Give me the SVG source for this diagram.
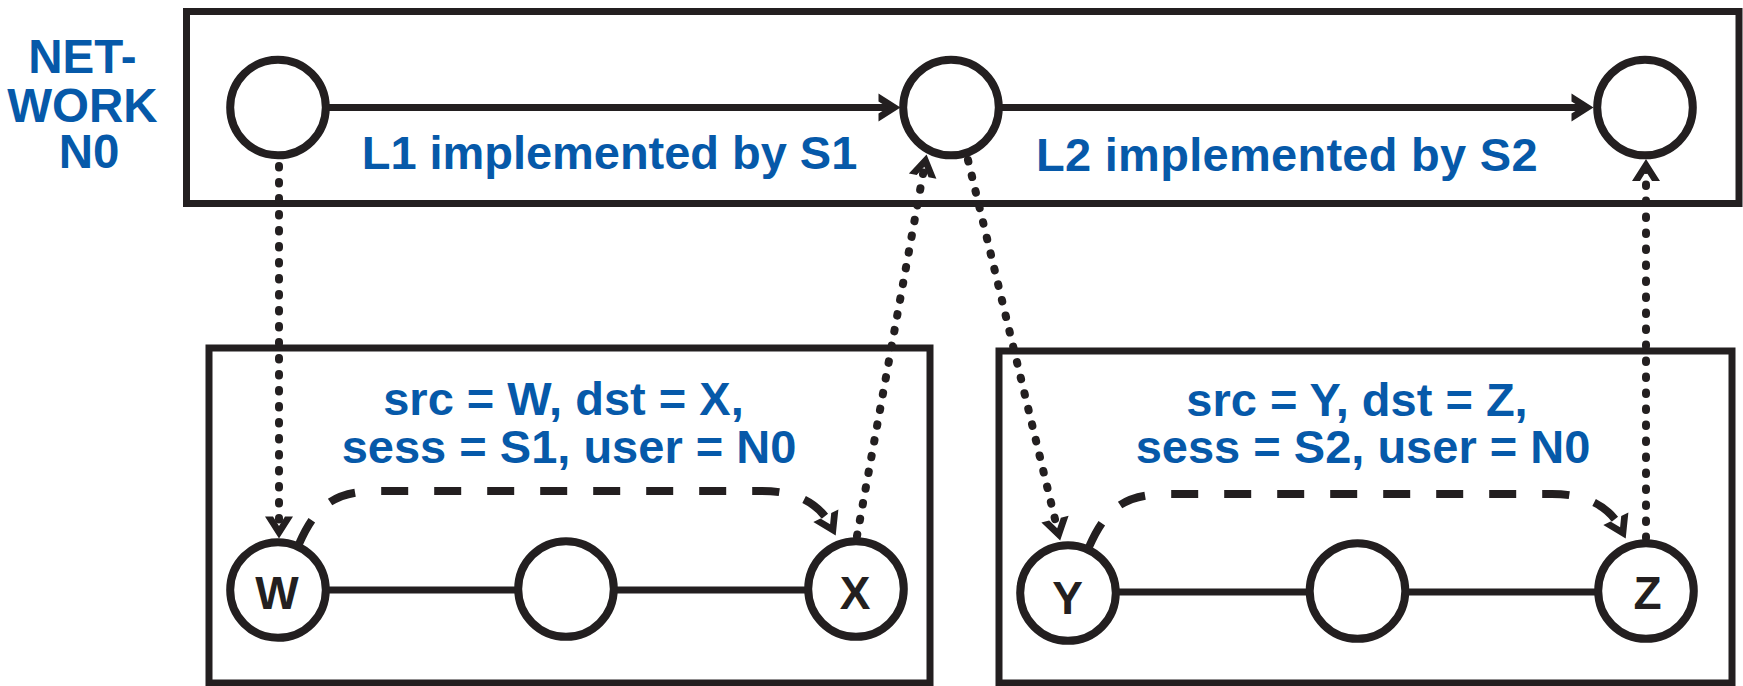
<svg xmlns="http://www.w3.org/2000/svg" width="1743" height="686" viewBox="0 0 1743 686">
  <style>
    .frame { fill: none; stroke: #231f20; stroke-width: 7; }
    .node { fill: #ffffff; stroke: #231f20; stroke-width: 8; }
    .link { fill: none; stroke: #231f20; stroke-width: 7; }
    .dot { fill: none; stroke: #231f20; stroke-width: 8; stroke-linecap: round; stroke-dasharray: 1.5 14.5; }
    .dash { fill: none; stroke: #231f20; stroke-width: 8; stroke-dasharray: 27 26; }
    .lbl { font-family: "Liberation Sans", Arial, Helvetica, sans-serif; font-weight: bold; fill: #0659a9; }
    .nl { font-family: "Liberation Sans", Arial, Helvetica, sans-serif; font-weight: bold; fill: #231f20; font-size: 46px; text-anchor: middle; }
  </style>
  <defs>
    <!-- barbed chevron head; the line stops 10px short of the tip -->
    <marker id="chev" viewBox="-13 -16 26 32" markerWidth="26" markerHeight="32" refX="0" refY="0" orient="auto" markerUnits="userSpaceOnUse">
      <path d="M10.5,0 L-11.5,-14 L-11.5,-6 L-2,0 L-11.5,6 L-11.5,14 Z" fill="#231f20"/>
    </marker>
  </defs>

  <rect width="1743" height="686" fill="#ffffff"/>

  <!-- network N0 -->
  <g id="network-n0">
    <rect class="frame" x="186.5" y="11.5" width="1552.5" height="192"/>
    <text class="lbl" font-size="47.5" text-anchor="middle">
      <tspan x="89" y="73">NET-</tspan>
      <tspan x="89" y="121.5">WORK</tspan>
      <tspan x="89" y="168">N0</tspan>
    </text>
    <text class="lbl" font-size="47" x="361.7" y="169" textLength="495.6">L1 implemented by S1</text>
    <text class="lbl" font-size="47" x="1036" y="170.5" textLength="501.6">L2 implemented by S2</text>
  </g>

  <!-- session S1 -->
  <g id="session-s1">
    <rect class="frame" x="209" y="348" width="721" height="335"/>
    <text class="lbl" font-size="47" text-anchor="middle">
      <tspan x="570" y="415">src = W, dst = X,</tspan>
      <tspan x="569" y="463.3">sess = S1, user = N0</tspan>
    </text>
  </g>

  <!-- session S2 -->
  <g id="session-s2">
    <rect class="frame" x="999" y="351" width="733" height="332"/>
    <text class="lbl" font-size="47" text-anchor="middle">
      <tspan x="1363.5" y="416">src = Y, dst = Z,</tspan>
      <tspan x="1363" y="463.3">sess = S2, user = N0</tspan>
    </text>
  </g>

  <g id="connectors">
    <!-- network links -->
    <path class="link" d="M326,107.5 H890" marker-end="url(#chev)"/>
    <path class="link" d="M999,107.5 H1583" marker-end="url(#chev)"/>
    <!-- session paths -->
    <path class="link" d="M278,590 H856"/>
    <path class="link" d="M1068,592 H1646"/>
    <!-- mapping between layers -->
    <path class="dot" d="M279,166 V528" marker-end="url(#chev)"/>
    <path class="dot" d="M857,536 L924.7,164.8" marker-end="url(#chev)"/>
    <path class="dot" d="M968,160 L1057.7,530.3" marker-end="url(#chev)"/>
    <path class="dot" d="M1646,538 V169.5" marker-end="url(#chev)"/>
    <!-- end-to-end session flows -->
    <path class="dash" d="M299,544 C316,505 335,491 378,491 L762,491 C800,491 821,506 831,526" marker-end="url(#chev)"/>
    <path class="dash" d="M1089,547 C1106,508 1125,494 1168,494 L1552,494 C1590,494 1611,509 1621,529" marker-end="url(#chev)"/>
  </g>

  <g id="node-n0-a"><circle class="node" cx="278" cy="107.5" r="47.8"/></g>
  <g id="node-n0-b"><circle class="node" cx="951" cy="107.5" r="47.8"/></g>
  <g id="node-n0-c"><circle class="node" cx="1645" cy="107.5" r="47.8"/></g>

  <g id="node-w"><circle class="node" cx="278" cy="590" r="47.8"/><text class="nl" x="277" y="609">W</text></g>
  <g id="node-s1-mid"><circle class="node" cx="566" cy="589" r="47.8"/></g>
  <g id="node-x"><circle class="node" cx="856" cy="589" r="47.8"/><text class="nl" x="855" y="609">X</text></g>

  <g id="node-y"><circle class="node" cx="1068" cy="593" r="47.8"/><text class="nl" x="1067.5" y="614">Y</text></g>
  <g id="node-s2-mid"><circle class="node" cx="1357.5" cy="591" r="47.8"/></g>
  <g id="node-z"><circle class="node" cx="1646" cy="591" r="47.8"/><text class="nl" x="1647.5" y="609">Z</text></g>
</svg>
